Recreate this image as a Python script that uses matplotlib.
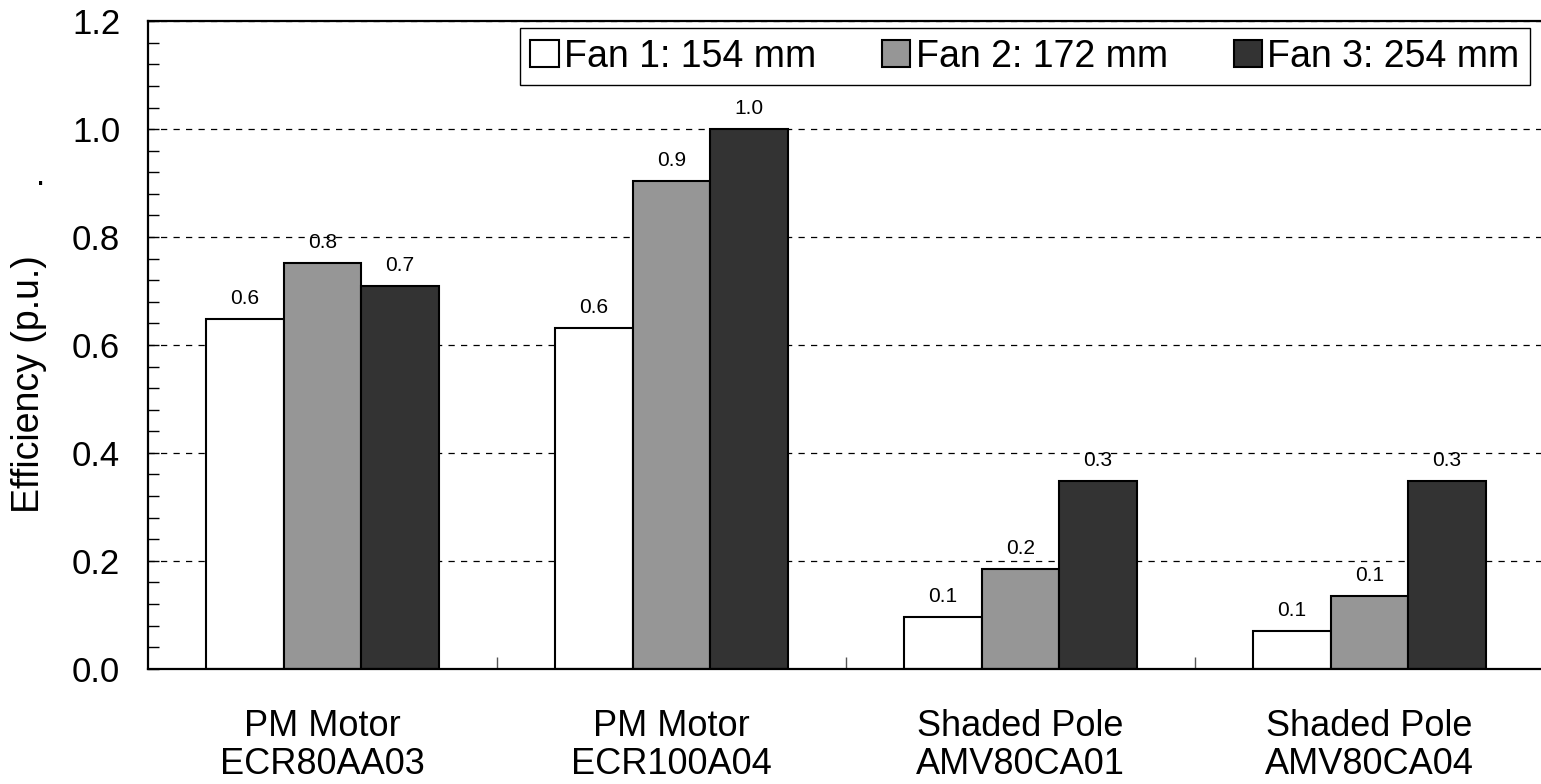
import numpy as np
import matplotlib.pyplot as plt
from matplotlib.ticker import MultipleLocator

plt.rcParams['font.family'] = ['Liberation Sans', 'DejaVu Sans']

motors = ["PM Motor\nECR80AA03", "PM Motor\nECR100A04",
          "Shaded Pole\nAMV80CA01", "Shaded Pole\nAMV80CA04"]
fan_names = ["Fan 1: 154 mm", "Fan 2: 172 mm", "Fan 3: 254 mm"]
fan1 = [0.648, 0.631, 0.096, 0.070]
fan2 = [0.752, 0.904, 0.185, 0.135]
fan3 = [0.709, 1.000, 0.348, 0.348]
colors = ["#ffffff", "#969696", "#333333"]


def plot():
    fig = plt.figure(figsize=(15.41, 7.84), dpi=100)
    ax = fig.add_axes([0.096, 0.147, 0.906, 0.826])

    x = np.arange(len(motors))
    w = 0.222
    series = [fan1, fan2, fan3]
    for k, vals in enumerate(series):
        bars = ax.bar(x + (k - 1) * w, vals, w, color=colors[k],
                      edgecolor="black", linewidth=1.5, label=fan_names[k],
                      zorder=2)
        for b, v in zip(bars, vals):
            ax.annotate("%.1f" % v, (b.get_x() + b.get_width() / 2, v),
                        xytext=(0, 8), textcoords="offset points",
                        ha="center", va="bottom", fontsize=15)

    ax.set_xlim(-0.5, len(motors) - 0.5)
    ax.set_ylim(0, 1.2)
    ax.yaxis.set_major_locator(MultipleLocator(0.2))
    ax.yaxis.set_minor_locator(MultipleLocator(0.04))
    ax.set_yticklabels(["%.1f" % t for t in ax.get_yticks()])
    ax.set_xticks(x)
    ax.set_xticks(x[:-1] + 0.5, minor=True)
    ax.set_xticklabels(motors, fontsize=26, linespacing=1.12)
    ax.tick_params(axis="y", which="both", direction="in", length=8,
                   width=1, labelsize=25, pad=20)
    ax.tick_params(axis="x", which="both", direction="in", length=9,
                   width=1, pad=29)
    ax.tick_params(axis="x", which="major", colors="#555555",
                   labelcolor="black")
    ax.tick_params(axis="x", which="minor", colors="#555555")

    ax.grid(axis="y", which="major", color="black", linestyle=(0, (5, 5)),
            linewidth=0.9)
    ax.set_axisbelow(True)
    for s in ax.spines.values():
        s.set_linewidth(1.6)

    ax.set_ylabel("Efficiency (p.u.)", fontsize=27)
    ax.yaxis.set_label_coords(-0.072, 0.44)
    fig.text(0.026, 0.775, ".", fontsize=24, ha="center", va="center")

    leg = ax.legend(loc="upper right", bbox_to_anchor=(0.990, 0.989), ncol=3,
                    fontsize=27, fancybox=False, framealpha=1,
                    edgecolor="black", handlelength=0.75, handleheight=0.75,
                    handletextpad=0.15, columnspacing=1.75, borderpad=0.28,
                    borderaxespad=0)
    leg.get_frame().set_linewidth(1.0)

    fig.savefig("out.png", dpi=100)


if __name__ == '__main__':
    plot()
